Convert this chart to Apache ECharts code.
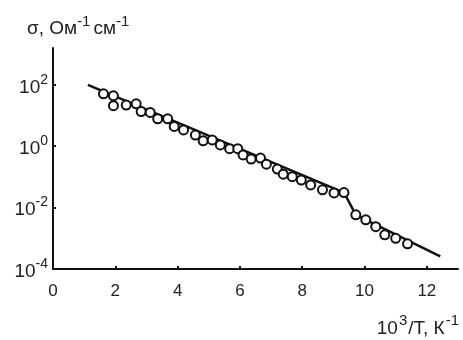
<!DOCTYPE html>
<html><head><meta charset="utf-8">
<script src="https://cdn.jsdelivr.net/npm/echarts@6/dist/echarts.min.js"></script>
<style>html,body{margin:0;padding:0;background:#fff}#c{width:463px;height:340px}</style>
</head><body><div id="c"></div>
<script>
// data
const pointX = [1.62,1.94,1.94,2.35,2.67,2.83,3.12,3.36,3.68,3.89,4.19,4.57,4.82,5.11,5.37,5.67,5.93,6.10,6.36,6.66,6.85,7.20,7.39,7.68,7.97,8.27,8.65,9.02,9.34,9.72,10.04,10.36,10.65,11.00,11.38];
const pointSigma = [51,44,21,22,24,13.5,12.6,7.8,7.8,4.4,3.4,2.3,1.5,1.6,1.1,0.83,0.83,0.52,0.38,0.41,0.26,0.18,0.123,0.102,0.079,0.055,0.038,0.030,0.031,0.0058,0.0040,0.0024,0.0013,0.0010,0.00066];
const lineX = [1.12, 9.34, 9.72, 12.43];
const lineSigma = [100, 0.031, 0.0058, 0.00026];
const xTicks = [0,2,4,6,8,10,12];
const yTicks = [1e-4,1e-2,1,1e2];

const chart = echarts.init(document.getElementById('c'));
const font = 'Liberation Sans, Arial, sans-serif';
chart.setOption({
  animation:false,
  grid:{left:53,right:5,top:48,bottom:71},
  xAxis:{type:'value',min:0,max:13,interval:1,
    axisLine:{lineStyle:{color:'#111',width:2}},
    axisTick:{inside:true,length:3,customValues:xTicks.slice(1),lineStyle:{color:'#111',width:2}},
    axisLabel:{customValues:xTicks,margin:14,color:'#222',fontSize:17,fontFamily:font},
    splitLine:{show:false}},
  yAxis:{type:'log',min:1e-4,max:Math.pow(10,3.2),
    axisLine:{lineStyle:{color:'#111',width:2}},
    axisTick:{inside:true,length:3,customValues:yTicks.slice(1),lineStyle:{color:'#111',width:2}},
    axisLabel:{customValues:yTicks,margin:5,color:'#222',fontFamily:font,
      formatter:function(v){const e=Math.round(Math.log10(v));return '{b|10}{s|'+e+'}';},
      rich:{b:{fontSize:19,fontFamily:font,color:'#222',lineHeight:24,verticalAlign:'bottom'},
            s:{fontSize:14,fontFamily:font,color:'#222',lineHeight:24,verticalAlign:'top'}}},
    splitLine:{show:false}},
  graphic:[
    {type:'text',left:27,top:14,style:{text:'{b|σ, Ом}{s|-1}{b|см}{s|-1}',fontSize:19,fontFamily:font,fill:'#222',
      rich:{b:{fontSize:19,fontFamily:font,fill:'#222',lineHeight:24,verticalAlign:'bottom'},
            s:{fontSize:15,fontFamily:font,fill:'#222',lineHeight:24,verticalAlign:'top',padding:[0,3,0,0]}}}},
    {type:'text',right:3,top:313,style:{text:'{b|10}{s|3}{b|/T, К}{s|-1}',fontSize:19,fontFamily:font,fill:'#222',
      rich:{b:{fontSize:19,fontFamily:font,fill:'#222',lineHeight:25,verticalAlign:'bottom'},
            s:{fontSize:15,fontFamily:font,fill:'#222',lineHeight:25,verticalAlign:'top',padding:[0,1,0,1]}}}}
  ],
  series:[
    {type:'line',data:lineX.map((x,i)=>[x,lineSigma[i]]),symbol:'none',
      lineStyle:{color:'#111',width:2.5},z:2},
    {type:'scatter',data:pointX.map((x,i)=>[x,pointSigma[i]]),symbol:'circle',symbolSize:9,
      itemStyle:{color:'#fff',borderColor:'#111',borderWidth:2,opacity:1},z:3}
  ]
});
</script></body></html>
